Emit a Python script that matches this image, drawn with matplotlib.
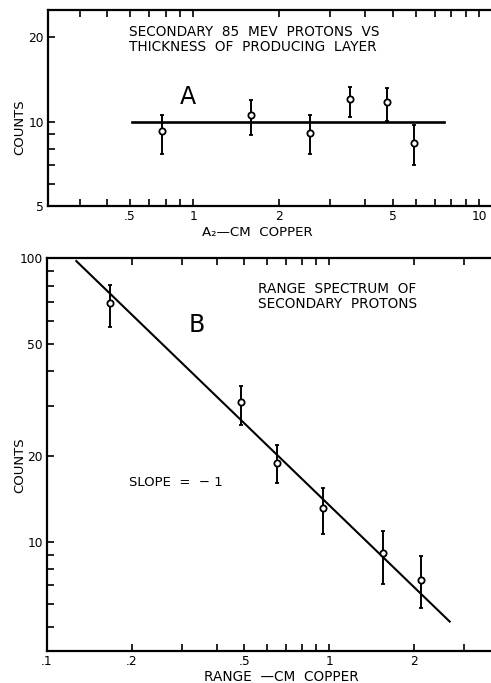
import matplotlib
matplotlib.use("Agg")
import matplotlib.pyplot as plt
from matplotlib.ticker import FixedLocator, NullFormatter

# ---------------- data: panel A ----------------
a_x = [0.776, 1.594, 2.553, 3.527, 4.745, 5.915]
a_y = [9.26, 10.53, 9.14, 12.00, 11.74, 8.37]
a_hi = [10.53, 11.91, 10.56, 13.32, 13.14, 9.70]
a_lo = [7.69, 8.99, 7.69, 10.38, 10.05, 6.99]
a_fit_x = [0.612, 7.55]
a_fit_y = [10.0, 10.0]
a_xticks = [0.6, 1, 2, 5, 10]
a_xticklabels = [".5", "1", "2", "5", "10"]
a_xminor = [0.4, 0.5, 0.7, 0.8, 0.9, 3, 4, 6, 7, 8, 9]
a_yticks = [5, 10, 20]
a_yticklabels = ["5", "10", "20"]
a_yminor = [6, 7, 8, 9]

# ---------------- data: panel B ----------------
b_x = [0.167, 0.485, 0.651, 0.947, 1.552, 2.109]
b_y = [69.7, 31.0, 19.0, 13.12, 9.10, 7.33]
b_hi = [80.5, 35.5, 21.9, 15.5, 10.93, 8.91]
b_lo = [57.1, 25.8, 16.1, 10.62, 7.07, 5.85]
b_fit_x = [0.127, 2.67]
b_fit_y = [97.8, 5.22]
b_xticks = [0.1, 0.2, 0.5, 1, 2]
b_xticklabels = [".1", ".2", ".5", "1", "2"]
b_xminor = [0.3, 0.4, 0.6, 0.7, 0.8, 0.9, 3]
b_yticks = [10, 20, 50, 100]
b_yticklabels = ["10", "20", "50", "100"]
b_yminor = [5, 6, 7, 8, 9, 30, 40, 60, 70, 80, 90]

plt.rcParams['font.family'] = ['DejaVu Sans']

fig = plt.figure(figsize=(4.91, 6.83), dpi=100)
axA = fig.add_axes([0.0978, 0.6984, 1 - 0.0978, 0.287])
axB = fig.add_axes([0.0957, 0.0469, 1 - 0.0957, 0.5749])

def style(ax, xticks, xlabels, xminor, yticks, ylabels, yminor):
    ax.set_xscale('log')
    ax.set_yscale('log')
    ax.spines['right'].set_visible(False)
    for s in ['left', 'top', 'bottom']:
        ax.spines[s].set_linewidth(1.6)
    ax.xaxis.set_major_locator(FixedLocator(xticks))
    ax.set_xticklabels(xlabels)
    ax.xaxis.set_minor_locator(FixedLocator(xminor))
    ax.xaxis.set_minor_formatter(NullFormatter())
    ax.yaxis.set_major_locator(FixedLocator(yticks))
    ax.set_yticklabels(ylabels)
    ax.yaxis.set_minor_locator(FixedLocator(yminor))
    ax.yaxis.set_minor_formatter(NullFormatter())
    ax.tick_params(which='both', direction='in', length=5, width=1.2,
                   top=True, right=False, labelsize=8.8, pad=3)

def draw(ax, x, y, lo, hi):
    yerr = [[yy - l for yy, l in zip(y, lo)], [h - yy for yy, h in zip(y, hi)]]
    ax.errorbar(x, y, yerr=yerr, fmt='o', ms=4.5, mfc='white', mec='black',
                mew=1.3, ecolor='black', elinewidth=1.4, capsize=1.4,
                capthick=1.4, zorder=3)

# Panel A
style(axA, a_xticks, a_xticklabels, a_xminor, a_yticks, a_yticklabels, a_yminor)
axA.set_xlim(0.31, 11.0)
axA.set_ylim(5, 25)
axA.plot(a_fit_x, a_fit_y, color='black', lw=1.9, zorder=2)
draw(axA, a_x, a_y, a_lo, a_hi)
axA.text(0.183, 0.849, "SECONDARY  85  MEV  PROTONS  VS\nTHICKNESS  OF  PRODUCING  LAYER",
         transform=axA.transAxes, fontsize=9.8, ha='left', va='center',
         linespacing=1.12)
axA.text(0.316, 0.556, "A", transform=axA.transAxes, fontsize=17,
         ha='center', va='center')
axA.set_ylabel("COUNTS", fontsize=9.5, va='center')
axA.yaxis.set_label_coords(-0.064, 0.403)
axA.set_xlabel("A\u2082\u2014CM  COPPER", fontsize=9.6, va='center')
axA.xaxis.set_label_coords(0.472, -0.135)

# Panel B
style(axB, b_xticks, b_xticklabels, b_xminor, b_yticks, b_yticklabels, b_yminor)
axB.set_xlim(0.1, 3.74)
axB.set_ylim(4.11, 100)
axB.plot(b_fit_x, b_fit_y, color='black', lw=1.5, zorder=2)
draw(axB, b_x, b_y, b_lo, b_hi)
axB.text(0.475, 0.902, "RANGE  SPECTRUM  OF\nSECONDARY  PROTONS",
         transform=axB.transAxes, fontsize=9.8, ha='left', va='center',
         linespacing=1.12)
axB.text(0.338, 0.830, "B", transform=axB.transAxes, fontsize=17,
         ha='center', va='center')
axB.text(0.185, 0.428, "SLOPE  =  \u2212 1", transform=axB.transAxes,
         fontsize=9.5, ha='left', va='center')
axB.set_ylabel("COUNTS", fontsize=9.5, va='center')
axB.yaxis.set_label_coords(-0.062, 0.474)
axB.set_xlabel("RANGE  \u2014CM  COPPER", fontsize=9.8, va='center')
axB.xaxis.set_label_coords(0.527, -0.066)

fig.savefig("out.png", dpi=100)
